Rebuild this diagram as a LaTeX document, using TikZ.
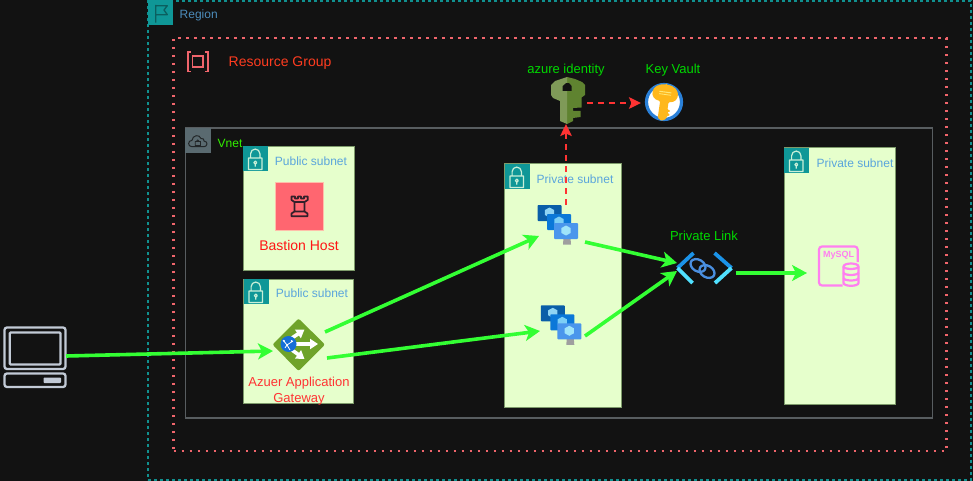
\documentclass[tikz,border=0pt]{standalone}
\usepackage{fontspec}
\setmainfont{Liberation Sans}
\usetikzlibrary{arrows.meta}
\definecolor{bgc}{HTML}{121212}
\definecolor{teal1}{HTML}{0F9797}
\definecolor{regionline}{HTML}{10908F}
\definecolor{rgline}{HTML}{F0656C}
\definecolor{vnetline}{HTML}{585D60}
\definecolor{vnetbg}{HTML}{5A6A70}
\definecolor{subfill}{HTML}{E6FFCC}
\definecolor{subline}{HTML}{7D9A6A}
\definecolor{bluetxt}{HTML}{5AA5DC}
\definecolor{gr}{HTML}{33FF33}
\definecolor{rd}{HTML}{FF3333}
\definecolor{labelgreen}{HTML}{00D800}
\definecolor{pcline}{HTML}{C2CAD6}
\definecolor{mysql}{HTML}{FF80F0}
\definecolor{lockline}{HTML}{C8EFD8}
\definecolor{flagline}{HTML}{0B5F5F}
\definecolor{cloudline}{HTML}{222628}
\definecolor{rgtext}{HTML}{FF3C20}
\definecolor{vnettext}{HTML}{33F000}
\definecolor{bastfill}{HTML}{FF6670}
\definecolor{bastline}{HTML}{FFBEAA}
\definecolor{towerline}{HTML}{33202A}
\definecolor{bastext}{HTML}{FF1414}
\definecolor{gwgreen}{HTML}{6FA32A}
\definecolor{gwblue}{HTML}{156ED7}
\definecolor{gwtext}{HTML}{FF3333}
\definecolor{keydark}{HTML}{5F8330}
\definecolor{keylight}{HTML}{7F9A58}
\definecolor{vaultring}{HTML}{2A80D8}
\definecolor{vaultkey}{HTML}{FFB81C}
\definecolor{vaultlite}{HTML}{FFE878}
\definecolor{plinkA}{HTML}{1B93E8}
\definecolor{plinkB}{HTML}{50E0FF}
\definecolor{plinkC}{HTML}{4A8FE0}
\definecolor{scrA}{HTML}{0A5EA8}
\definecolor{scrB}{HTML}{0B78D8}
\definecolor{scrC}{HTML}{4A96EC}
\definecolor{cubA}{HTML}{8FD4F4}
\definecolor{cubB}{HTML}{7CCFF6}
\definecolor{cubC}{HTML}{9FE4FA}
\tikzset{
  x=1pt,y=-1pt,
  region/.style={draw=regionline,line width=1.5pt,dash pattern=on 3pt off 3pt},
  rgbox/.style={draw=rgline,line width=2.4pt,dash pattern=on 2.4pt off 5.6pt},
  vnetbox/.style={draw=vnetline,line width=1.5pt},
  subnet/.style={draw=subline,line width=1pt,fill=subfill,inner sep=0pt},
  sublabel/.style={text=bluetxt,font=\fontsize{12}{14}\selectfont,inner sep=0pt},
  greenlabel/.style={text=labelgreen,font=\fontsize{13}{15}\selectfont,inner sep=0pt},
  flow/.style={draw=gr,line width=3.6pt,-{Stealth[length=15pt,width=16pt,inset=4pt]}},
  redflow/.style={draw=rd,line width=2.2pt,dash pattern=on 6pt off 5pt,-{Stealth[length=12pt,width=11.5pt,inset=2.5pt]}},
  lockpic/.pic={
    \fill[teal1] (0,0) rectangle (25,25);
    \draw[lockline,line width=1.2pt,line join=round]
      (5.5,12) rectangle (19,23.5)
      (7.6,12) -- (7.6,7.7) arc[start angle=180,end angle=360,radius=4.65] -- (16.9,12)
      (12.3,16.6) circle[radius=1.5] (12.3,18.1) -- (12.3,20.6);
  },
  vmpic/.pic={
    \fill[gray!75!white] (9.0,-1) -- (16,-1) -- (16.5,5.5) -- (8.5,5.5) -- cycle;
    \foreach \xx/\yy/\cc/\cb in {-17/-19/scrA/cubA,-7.5/-10/scrB/cubB,-0.5/-1/scrC/cubC}{
      \fill[\cc,rounded corners=.8pt] (\xx,\yy-15) rectangle ++(24,16);
      \fill[\cb] (\xx+12,\yy-12.5) -- ++(4.6,2.5) -- ++(0,5) -- ++(-4.6,2.5) -- ++(-4.6,-2.5) -- ++(0,-5) -- cycle;
    }
  },
}
\begin{document}
\begin{tikzpicture}
\useasboundingbox (0,0) rectangle (973,481);
\fill[bgc] (0,0) rectangle (973,481);

% containers
\node[region,minimum width=823pt,minimum height=479pt,inner sep=0pt] (regionbox) at (559.5,240.5) {};
\node[rgbox,minimum width=773pt,minimum height=413pt,inner sep=0pt] (groupbox) at (560,244.5) {};
\node[vnetbox,minimum width=747pt,minimum height=290pt,inner sep=0pt] (vnetbox) at (559,273) {};

% region icon + label
\fill[teal1] (148,0) rectangle (173,25);
\draw[flagline,line width=1.3pt,line join=round]
  (155.7,5) -- (155.7,22.7) (155.7,5.7) -- (167.3,5.7) -- (164,10) -- (167.3,14.7) -- (155.7,14.7);
\node[sublabel,anchor=west,text=bluetxt!85!black] (regionlabel) at (179.5,15.5) {Region};

% resource group icon + label
\draw[rgline,line width=1.7pt] (190.5,52) -- (188,52) -- (188,71.5) -- (190.5,71.5)
  (205,52) -- (207.8,52) -- (207.8,71.5) -- (205,71.5);
\draw[rgline,line width=1.7pt] (192.5,56.3) rectangle (203.2,67.3);
\node[anchor=west,inner sep=0pt,text=rgtext,font=\fontsize{14}{16}\selectfont] (rglabel) at (228.5,63) {Resource Group};

% vnet icon + label
\fill[vnetbg] (185,128) rectangle (210.5,153.5);
\draw[cloudline,line width=1pt,line join=round]
  (192,146.7) .. controls (187.5,146.7) and (187.5,140.5) .. (192,140.3)
  .. controls (192.5,135) and (199.5,134) .. (201,138.5)
  .. controls (203,138) and (204.5,139.5) .. (204,141)
  .. controls (208.5,141.5) and (207.5,146.7) .. (204,146.7) -- cycle;
\draw[cloudline,line width=.8pt] (195.2,141.5) rectangle (200.5,145.5)
  (196.3,141.5) arc[start angle=180,end angle=360,radius=1.55];
\node[anchor=west,inner sep=0pt,text=vnettext,font=\fontsize{12}{14}\selectfont] (vnetlabel) at (217.5,143.5) {Vnet};

% subnets
\node[subnet,minimum width=111pt,minimum height=124.5pt] (subA) at (298.5,208.7) {};
\pic at (243,146) {lockpic};
\node[sublabel] (subAlabel) at (311,161.3) {Public subnet};
\node[subnet,minimum width=110pt,minimum height=124pt] (subB) at (298.5,341) {};
\pic at (243.5,279) {lockpic};
\node[sublabel] (subBlabel) at (312,293.3) {Public subnet};
\node[subnet,minimum width=117pt,minimum height=243pt] (subC) at (563,285.5) {};
\pic at (504.5,164) {lockpic};
\node[sublabel] (subClabel) at (575,179.3) {Private subnet};
\node[subnet,minimum width=111pt,minimum height=256pt] (subD) at (839.5,276) {};
\pic at (784,148) {lockpic};
\node[sublabel] (subDlabel) at (855,163.3) {Private subnet};

% computer
\node[inner sep=0pt,minimum width=62pt,minimum height=60pt] (pc) at (35,357) {};
\draw[pcline,line width=2.3pt,rounded corners=2.5pt] (4.5,327.5) rectangle (65.5,369);
\draw[pcline,line width=2.3pt,rounded corners=1pt] (9.8,332.5) rectangle (60.5,364.5);
\draw[pcline,line width=2.3pt,rounded corners=2.5pt] (4.5,373.5) rectangle (65.5,387);
\fill[pcline,rounded corners=.8pt] (43.5,377.5) rectangle (61,383);

% bastion
\node[fill=bastfill,draw=bastline,line width=.5pt,minimum size=48pt,inner sep=0pt] (bastion) at (299,206) {};
\draw[towerline,line width=1.7pt,line join=round]
  (291.5,196.5) -- (295,196.5) -- (295,198.5) -- (298,198.5) -- (298,196.5) -- (301,196.5) -- (301,198.5) -- (304,198.5) -- (304,196.5) -- (307.7,196.5) -- (307.7,200) -- (304.5,202) -- (304.5,211.5) -- (307.5,213.5) -- (307.5,216.3) -- (291.5,216.3) -- (291.5,213.5) -- (294.5,211.5) -- (294.5,202) -- (291.5,200) -- cycle
  (294.5,202) -- (304.5,202) (294.5,211.5) -- (304.5,211.5);
\node[inner sep=0pt,text=bastext,font=\fontsize{14}{16}\selectfont] (bastionlabel) at (299,245) {Bastion Host};

% application gateway
\node[inner sep=0pt,minimum size=52pt] (appgw) at (298.5,344) {};
\fill[gwgreen,rounded corners=2pt] (298.5,318.5) -- (325,344.5) -- (298.5,371) -- (272.5,344.5) -- cycle;
\begin{scope}[white,line width=3.6pt,-{Stealth[length=8pt,width=10pt,inset=0pt]}]
  \draw (295,344) -- (318,344);
  \draw (292,338) -- (304.5,329.5);
  \draw (292,350) -- (304.5,359);
\end{scope}
\fill[gwblue] (288.5,344) circle[radius=8];
\draw[white,line width=.8pt] (283,340) -- (287,345) -- (293,341) (287,345) -- (290,350) (285,348) -- (287,345);
\fill[white] (287,345) circle[radius=1.2] (291.5,341) circle[radius=1] (284,341) circle[radius=1];
\node[inner sep=0pt,align=center,text=gwtext,font=\fontsize{13}{16}\selectfont] (appgwlabel) at (299,391) {Azuer Application\\Gateway};

% VMs
\node[inner sep=0pt,minimum width=44pt,minimum height=42pt] (vmA) at (558,225) {};
\pic at (554.5,239) {vmpic};
\node[inner sep=0pt,minimum width=44pt,minimum height=42pt] (vmB) at (561.5,325.5) {};
\pic at (557.8,339.3) {vmpic};

% azure identity
\node[greenlabel] (idlabel) at (566,70) {azure identity};
\node[inner sep=0pt,minimum width=36pt,minimum height=46pt] (identity) at (567.5,100) {};
\fill[keydark]
  (567,77) -- (575,79) -- (582,82) -- (585,85) -- (585,95) -- (581.5,97.5) -- (581.5,107.5) -- (573,108) -- (573,111) -- (580.5,111) -- (580.5,117) -- (573,118) -- (573,121) -- (567,124) -- cycle;
\fill[keylight]
  (567,77) -- (567,124) -- (560,121) -- (560,101) -- (553,98) -- (551,95) -- (551,85) -- (555,81) -- cycle;
\fill[bgc] (562.7,86) -- (566,83.2) -- (569,83.2) -- (571.7,86) -- (571.7,91) -- (562.7,91) -- cycle;

% key vault
\node[greenlabel] (kvlabel) at (673,70) {Key Vault};
\node[circle,fill=white,draw=vaultring,line width=3.2pt,minimum size=35pt,inner sep=0pt] (vault) at (664,102) {};
\begin{scope}[rotate around={-8:(664,102)}]
  \fill[vaultkey,rounded corners=1pt]
    (664,84.5) .. controls (680,84.5) and (680,101) .. (668.5,101.5) -- (668.5,109) -- (672,110) -- (668.5,112) -- (672,114) -- (668.5,116) -- (668.5,118.5) -- (664,121) -- (660,118.5) -- (660,101.5) .. controls (648,101) and (648,84.5) .. (664,84.5) -- cycle;
  \fill[vaultlite] (658,91.5) rectangle (670,92.5) (658,94) rectangle (670,94.8);
\end{scope}

% private link
\node[greenlabel] (linklabel) at (704,236) {Private Link};
\node[inner sep=0pt,minimum width=58pt,minimum height=32pt] (plink) at (704.5,268) {};
\begin{scope}[line width=3.8pt,line cap=butt]
  \draw[plinkA] (693.5,253) -- (677.5,268) (714.5,253) -- (731.5,268);
  \draw[plinkB] (677.5,268) -- (692.5,283) (731.5,268) -- (715,283);
\end{scope}
\draw[plinkC,line width=2.3pt,rotate around={-30:(698,265.5)}] (698,265.5) ellipse[x radius=8,y radius=5.8];
\draw[plinkC,line width=2.3pt,rotate around={-30:(707,271.5)}] (707,271.5) ellipse[x radius=8,y radius=5.8];

% mysql
\node[inner sep=0pt,minimum width=41pt,minimum height=41pt] (db) at (838.5,266) {};
\draw[mysql,line width=2.2pt,rounded corners=3pt] (857.7,262) -- (857.7,246.5) -- (819,246.5) -- (819,285.5) -- (842.5,285.5);
\node[inner sep=0pt,text=mysql,font=\bfseries\fontsize{9}{10}\selectfont] (dbtext) at (838.5,255.5) {MySQL};
\draw[mysql,line width=2.2pt,fill=subfill]
  (843.5,266.5) arc[start angle=180,end angle=360,x radius=7.5,y radius=3] -- (858.5,283) arc[start angle=0,end angle=180,x radius=7.5,y radius=2.8] -- cycle;
\draw[mysql,line width=2.2pt]
  (843.5,266.5) arc[start angle=180,end angle=0,x radius=7.5,y radius=2.5]
  (843.5,272.5) arc[start angle=180,end angle=0,x radius=7.5,y radius=2.5]
  (843.5,278) arc[start angle=180,end angle=0,x radius=7.5,y radius=2.5];

% connectors
\draw[redflow] ([shift={(8,-20)}]vmA.center) -- ([shift={(-1.5,24)}]identity.center);
\draw[redflow] ([shift={(19.5,3)}]identity.center) -- ([shift={(-23,1)}]vault.center);
\draw[flow] ([shift={(31,-1)}]pc.center) -- ([shift={(-25.5,7)}]appgw.center);
\draw[flow] ([shift={(26.5,-12)}]appgw.center) -- ([shift={(-19,11)}]vmA.center);
\draw[flow] ([shift={(28.5,14)}]appgw.center) -- ([shift={(-21.5,5.5)}]vmB.center);
\draw[flow] ([shift={(27,17)}]vmA.center) -- ([shift={(-27.5,-5)}]plink.center);
\draw[flow] ([shift={(23.5,10.5)}]vmB.center) -- ([shift={(-27.5,3)}]plink.center);
\draw[flow] ([shift={(31,5)}]plink.center) -- ([shift={(-31.5,7)}]db.center);
\end{tikzpicture}
\end{document}
